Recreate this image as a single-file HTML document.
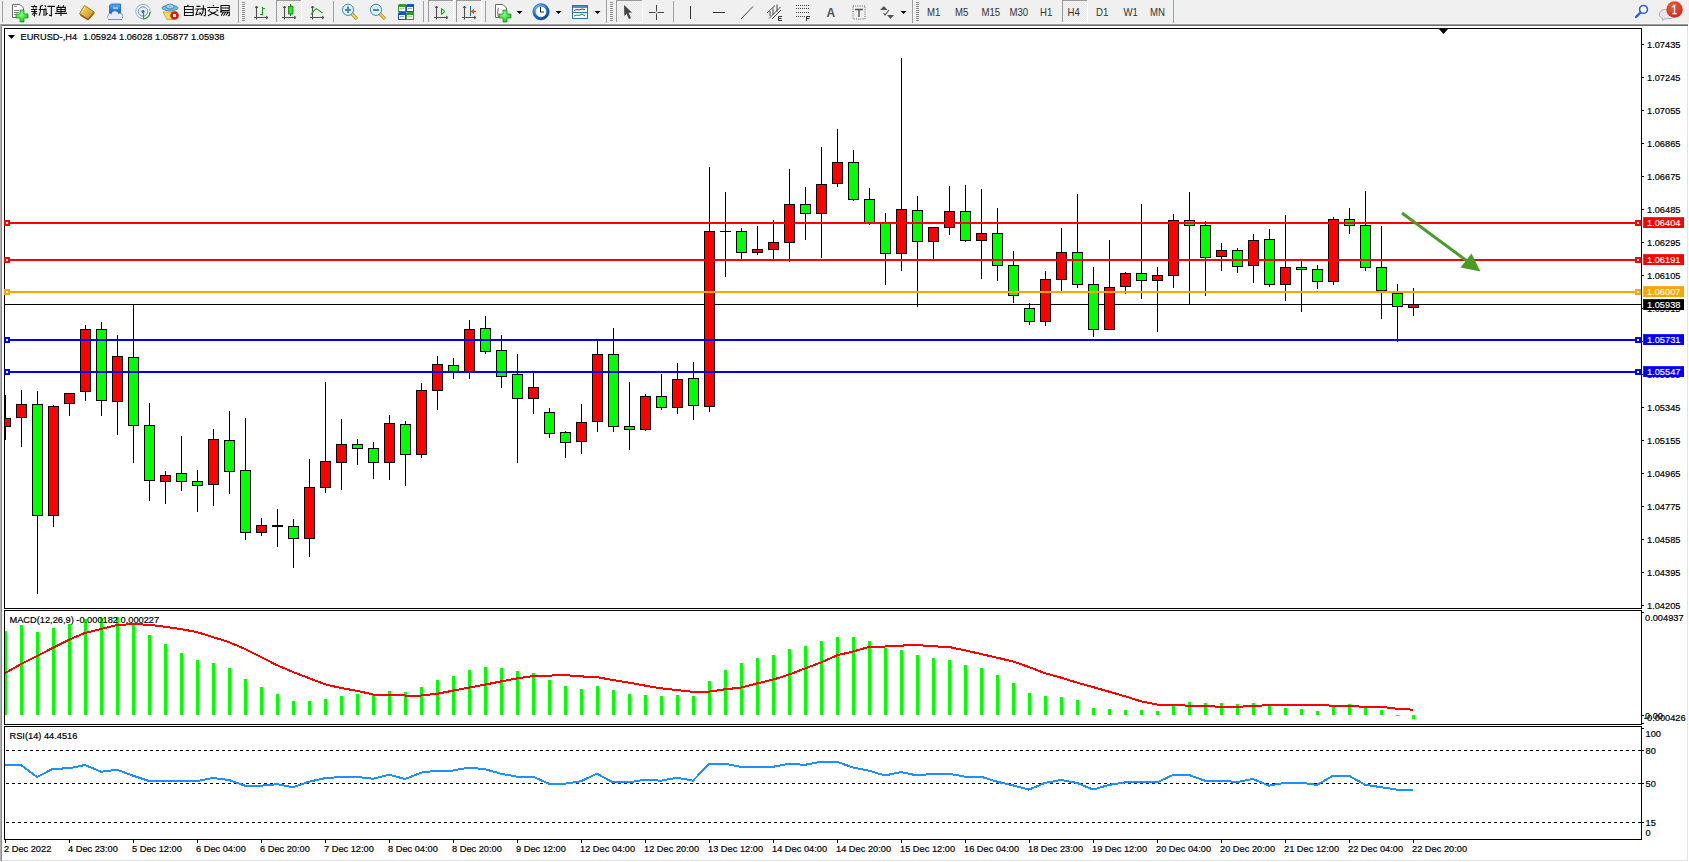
<!DOCTYPE html>
<html><head><meta charset="utf-8"><style>
html,body{margin:0;padding:0;width:1689px;height:862px;overflow:hidden;background:#fff;font-family:"Liberation Sans", sans-serif;}
</style></head><body>
<svg width="1689" height="862" viewBox="0 0 1689 862" style="position:absolute;left:0;top:0"><rect x="0" y="0" width="1689" height="24" fill="#f0f0f0"/><rect x="0" y="23" width="1689" height="1" fill="#f4f4f4"/><rect x="0" y="24" width="1688" height="1" fill="#9c9c9c"/><rect x="0" y="25" width="1688" height="1" fill="#6a6a6a"/><rect x="0" y="26" width="1689" height="836" fill="#ffffff"/><defs><pattern id="chk" width="2" height="2" patternUnits="userSpaceOnUse"><rect width="2" height="2" fill="#f6f6f6"/><rect width="1" height="1" fill="#e6e6e6"/><rect x="1" y="1" width="1" height="1" fill="#e6e6e6"/></pattern><radialGradient id="gplus" cx="0.4" cy="0.35" r="0.7"><stop offset="0" stop-color="#8cff8c"/><stop offset="1" stop-color="#12c812"/></radialGradient><linearGradient id="gold" x1="0" y1="0" x2="1" y2="1"><stop offset="0" stop-color="#f8e070"/><stop offset="1" stop-color="#c08a10"/></linearGradient><linearGradient id="blu" x1="0" y1="0" x2="0" y2="1"><stop offset="0" stop-color="#50b0ff"/><stop offset="1" stop-color="#1060d0"/></linearGradient><linearGradient id="clk" x1="0.2" y1="0" x2="0.8" y2="1"><stop offset="0" stop-color="#60b8ff"/><stop offset="0.5" stop-color="#1a70d8"/><stop offset="1" stop-color="#0a48a8"/></linearGradient><radialGradient id="redb" cx="0.4" cy="0.3" r="0.8"><stop offset="0" stop-color="#f06040"/><stop offset="1" stop-color="#d02010"/></radialGradient></defs><rect x="2" y="1" width="1" height="21" fill="#a0a0a0"/><path d="M12.5,4.5 H20 L23.5,8 V17.5 H12.5 Z" fill="#fff" stroke="#6a6a6a" stroke-width="1"/><rect x="14" y="6" width="3" height="1" fill="#888"/><rect x="14" y="10" width="5" height="1" fill="#888"/><rect x="14" y="12" width="5" height="1" fill="#888"/><rect x="14" y="14" width="3" height="1" fill="#888"/><path d="M20,10 h4 v4 h4 v4 h-4 v4 h-4 v-4 h-4 v-4 h4 z" fill="url(#gplus)" stroke="#0c8a0c" stroke-width="0.7"/><path d="M34.5,5 v1.2 M31.2,6.5 h6 M33,7.3 l0.6,1.3 M36.3,7.3 l-0.6,1.3 M31,9.5 h6.2 M31.2,11.5 h6 M34.5,9.5 v6.3 l-1,-0.5 M34,12.5 l-2,2.2 M35,12.5 l1.8,1.8 M43,5.2 l-3,1.3 M40.4,6.5 v5 l-1.2,4.2 M38.7,9.5 h6.5 M44,9.5 v6.4 M44.8,5.3 l1.2,1.6 M44.4,9 h1.6 v5.8 l1.6,-1.8 M47.4,6.4 h7.5 M51.4,6.4 v9.3 l-2.4,-0.6 M58.3,5.3 l0.8,1.3 M63.8,5.3 l-0.8,1.3 M57,7.4 h8.3 v4.1 h-8.3 z M57,9.5 h8.3 M61,7.4 v8.5 M55.1,13.4 h11.9 M188.2,4.8 l-0.6,1.4 M184.5,6.5 h8.7 v9 h-8.7 z M184.5,9.5 h8.7 M184.5,12.5 h8.7 M196.4,6.4 h4 M195.4,9 h6 M198,9 l-2,5.7 l4.8,-0.9 M199.6,12.2 l1.3,1.6 M203.4,5.3 v3.5 l-0.6,3.8 l-1.8,3 M201,8.9 h4.4 v6 l-0.4,0.8 l-1.3,-0.5 M213,5 l0.8,1.1 M207.4,7.5 h11.6 M209.7,9.5 l-1.6,1.6 M216.4,9.5 l1.7,1.6 M209.5,11.6 l9,4.2 M216.4,11.6 l-8.4,4.2 M221,5.5 h8.2 v5 h-8.2 z M221,8 h8.2 M221.8,10.6 l-1.8,1.8 M221,12 h8.3 v3.5 l-1.5,0.3 M223.4,12 l-2.2,3.8 M225.8,12 l-2.3,3.8 M228,12.4 l-2,3" fill="none" stroke="#101010" stroke-width="1.1" stroke-linecap="butt"/><path d="M79.5,13.8 L84.5,5.5 L94.5,12.2 L88,19.8 Z" fill="url(#gold)" stroke="#a06a10" stroke-width="0.9" stroke-linejoin="round"/><path d="M80.5,15 L88,19.5 L94,13" fill="none" stroke="#9a5a10" stroke-width="1.6"/><path d="M82,12.5 Q84,8 85,6.5" fill="none" stroke="#fff4b0" stroke-width="0.8"/><path d="M109.5,5.5 L111.5,4 H120.5 V13 H109.5 Z" fill="url(#blu)" stroke="#1a5ab0" stroke-width="0.8"/><rect x="113" y="7.5" width="5" height="1.2" fill="#d8f0ff"/><g fill="#e8ecf6" stroke="#6a7ea8" stroke-width="0.9"><circle cx="110.5" cy="16.5" r="2.8"/><circle cx="115" cy="14.5" r="3.6"/><circle cx="119.8" cy="16.2" r="3"/><rect x="108" y="16.5" width="14" height="3" stroke="none"/></g><path d="M108,19.5 H122" stroke="#6a7ea8" stroke-width="0.9"/><g fill="#e8ecf6"><circle cx="110.5" cy="16.5" r="2.3"/><circle cx="115" cy="14.5" r="3.1"/><circle cx="119.8" cy="16.2" r="2.5"/><rect x="109" y="15.5" width="12" height="3.6"/></g><circle cx="143" cy="11.5" r="7.2" fill="none" stroke="#90b0e0" stroke-width="1"/><circle cx="143" cy="11.5" r="4.6" fill="none" stroke="#6a90d8" stroke-width="1"/><circle cx="143" cy="11.5" r="1.6" fill="#2a60d0"/><path d="M143.5,12 v7.5 M144,19 a7,7 0 0 0 6,-7" fill="none" stroke="#30a030" stroke-width="1.2"/><path d="M163,12 L177,12 L173,19.5 L167,19.5 Z" fill="#f0e060" stroke="#c0a020" stroke-width="0.8"/><ellipse cx="170" cy="8" rx="8" ry="2.8" fill="#70b8e8" stroke="#3a80b0" stroke-width="0.8"/><ellipse cx="170" cy="6.5" rx="4" ry="2.5" fill="#90d0f8" stroke="#3a80b0" stroke-width="0.8"/><circle cx="174.5" cy="15.5" r="4.3" fill="#d82010"/><rect x="173" y="14" width="3" height="3" fill="#fff"/><rect x="238" y="0" width="1" height="23" fill="#a0a0a0"/><rect x="242" y="2" width="3" height="1" fill="#8a8a8a"/><rect x="242" y="4" width="3" height="1" fill="#8a8a8a"/><rect x="242" y="6" width="3" height="1" fill="#8a8a8a"/><rect x="242" y="8" width="3" height="1" fill="#8a8a8a"/><rect x="242" y="10" width="3" height="1" fill="#8a8a8a"/><rect x="242" y="12" width="3" height="1" fill="#8a8a8a"/><rect x="242" y="14" width="3" height="1" fill="#8a8a8a"/><rect x="242" y="16" width="3" height="1" fill="#8a8a8a"/><rect x="242" y="18" width="3" height="1" fill="#8a8a8a"/><rect x="242" y="20" width="3" height="1" fill="#8a8a8a"/><path d="M256.5,6 V19.5 M254,17.5 H268" stroke="#505050" stroke-width="1.1" fill="none"/><path d="M255,8 L256.5,6 L258,8 M266,16 L268,17.5 L266,19" stroke="#505050" stroke-width="1" fill="none"/><path d="M262.5,7 V15.5 M262.5,8.5 H265 M262.5,14.5 H260" stroke="#10a010" stroke-width="1.2" fill="none"/><rect x="276" y="0" width="25" height="22" fill="url(#chk)"/><rect x="276" y="0" width="25" height="1" fill="#9a9a9a"/><rect x="276" y="0" width="1" height="22" fill="#9a9a9a"/><rect x="276" y="22" width="26" height="1" fill="#ffffff"/><rect x="301" y="0" width="1" height="23" fill="#ffffff"/><path d="M284.5,6 V19.5 M282,17.5 H296" stroke="#505050" stroke-width="1.1" fill="none"/><path d="M283,8 L284.5,6 L286,8 M294,16 L296,17.5 L294,19" stroke="#505050" stroke-width="1" fill="none"/><rect x="290" y="4" width="1.2" height="12" fill="#108010"/><rect x="288.5" y="6.5" width="4.5" height="7.5" fill="#30e030" stroke="#108010" stroke-width="0.8"/><path d="M312.5,6 V19.5 M310,17.5 H324" stroke="#505050" stroke-width="1.1" fill="none"/><path d="M311,8 L312.5,6 L314,8 M322,16 L324,17.5 L322,19" stroke="#505050" stroke-width="1" fill="none"/><path d="M311,14.5 C313.5,11 315.5,8.5 317,9 C319,9.5 320.5,12.5 322.7,13" stroke="#20a020" stroke-width="1.2" fill="none"/><rect x="333" y="1" width="1" height="21" fill="#a0a0a0"/><path d="M351.5,13.5 L357,19" stroke="#b08a10" stroke-width="3.2" stroke-linecap="butt"/><path d="M351.5,13.5 L357,19" stroke="#e8d050" stroke-width="1.8"/><circle cx="348" cy="9.8" r="5.6" fill="#dcf2fc" stroke="#3a80c8" stroke-width="1"/><rect x="345" y="9" width="6" height="2" fill="#4a88a8"/><rect x="347" y="6.5" width="2" height="6.5" fill="#4a88a8"/><path d="M379.5,13.5 L385,19" stroke="#b08a10" stroke-width="3.2" stroke-linecap="butt"/><path d="M379.5,13.5 L385,19" stroke="#e8d050" stroke-width="1.8"/><circle cx="376" cy="9.8" r="5.6" fill="#dcf2fc" stroke="#3a80c8" stroke-width="1"/><rect x="373" y="9" width="6" height="2" fill="#4a88a8"/><rect x="398" y="4" width="8" height="8" fill="#30a020"/><rect x="399" y="7" width="6" height="4" fill="#fff"/><rect x="400" y="8" width="4" height="1" fill="#a0d890"/><rect x="398" y="4" width="1" height="1" fill="#fff" opacity="0.6"/><rect x="406" y="4" width="8" height="8" fill="#1a50d0"/><rect x="407" y="7" width="6" height="4" fill="#fff"/><rect x="408" y="8" width="4" height="1" fill="#90a8e8"/><rect x="406" y="4" width="1" height="1" fill="#fff" opacity="0.6"/><rect x="398" y="12" width="8" height="8" fill="#1a50d0"/><rect x="399" y="15" width="6" height="4" fill="#fff"/><rect x="400" y="16" width="4" height="1" fill="#90a8e8"/><rect x="398" y="12" width="1" height="1" fill="#fff" opacity="0.6"/><rect x="406" y="12" width="8" height="8" fill="#30a020"/><rect x="407" y="15" width="6" height="4" fill="#fff"/><rect x="408" y="16" width="4" height="1" fill="#a0d890"/><rect x="406" y="12" width="1" height="1" fill="#fff" opacity="0.6"/><rect x="423" y="1" width="1" height="21" fill="#a0a0a0"/><rect x="428" y="0" width="25" height="22" fill="url(#chk)"/><rect x="428" y="0" width="25" height="1" fill="#9a9a9a"/><rect x="428" y="0" width="1" height="22" fill="#9a9a9a"/><rect x="428" y="22" width="26" height="1" fill="#ffffff"/><rect x="453" y="0" width="1" height="23" fill="#ffffff"/><path d="M436.5,6 V19.5 M434,17.5 H448" stroke="#505050" stroke-width="1.1" fill="none"/><path d="M435,8 L436.5,6 L438,8 M446,16 L448,17.5 L446,19" stroke="#505050" stroke-width="1" fill="none"/><polygon points="441.5,8.5 441.5,14.5 445,11.5" fill="#a0f0a0" stroke="#10a010" stroke-width="1"/><rect x="456" y="0" width="25" height="22" fill="url(#chk)"/><rect x="456" y="0" width="25" height="1" fill="#9a9a9a"/><rect x="456" y="0" width="1" height="22" fill="#9a9a9a"/><rect x="456" y="22" width="26" height="1" fill="#ffffff"/><rect x="481" y="0" width="1" height="23" fill="#ffffff"/><path d="M464.5,6 V19.5 M462,17.5 H476" stroke="#505050" stroke-width="1.1" fill="none"/><path d="M463,8 L464.5,6 L466,8 M474,16 L476,17.5 L474,19" stroke="#505050" stroke-width="1" fill="none"/><rect x="470" y="6" width="1" height="10" fill="#1a6aa0"/><path d="M476,11.5 H472 M474,9.5 L471.5,11.5 L474,13.5" stroke="#e05010" stroke-width="1.3" fill="none"/><rect x="485" y="1" width="1" height="21" fill="#a0a0a0"/><path d="M495.5,4.5 H503 L506.5,8 V17.5 H495.5 Z" fill="#fff" stroke="#6a6a6a" stroke-width="1"/><path d="M499,8 q-1,0 -1,1.5 v2 l-0.8,0.8 l0.8,0.8 v2.5 q0,1.2 1,1.2" fill="none" stroke="#5a4a30" stroke-width="0.9"/><path d="M503,10 h4 v4 h4 v4 h-4 v4 h-4 v-4 h-4 v-4 h4 z" fill="url(#gplus)" stroke="#0c8a0c" stroke-width="0.7"/><polygon points="516.5,11 522.5,11 519.5,14" fill="#000"/><circle cx="541" cy="11.8" r="6.8" fill="#fff" stroke="url(#clk)" stroke-width="2.8"/><g fill="#888"><rect x="540.5" y="6" width="1" height="1"/><rect x="545.5" y="11.3" width="1" height="1"/><rect x="535.5" y="11.3" width="1" height="1"/><rect x="540.5" y="16.5" width="1" height="1"/></g><circle cx="541" cy="11.8" r="8.1" fill="none" stroke="#0a3a90" stroke-width="0.6"/><path d="M540.5,7 V12 H544" stroke="#222" stroke-width="1" fill="none"/><polygon points="555.5,11 561.5,11 558.5,14" fill="#000"/><rect x="572.5" y="5.5" width="15" height="13" fill="#fff" stroke="#2a70c0" stroke-width="1"/><rect x="573" y="6" width="14" height="2" fill="#4a90d8"/><rect x="573" y="12" width="14" height="1" fill="#2a70c0"/><path d="M574,10.5 L577,9.5 L579,10 L582,9 L585,9.5" stroke="#a02010" stroke-width="1" fill="none"/><path d="M574,16 L577,15 L579,15.5 L582,14 L585,16" stroke="#10a010" stroke-width="1" fill="none"/><polygon points="594.5,11 600.5,11 597.5,14" fill="#000"/><rect x="606" y="0" width="1" height="23" fill="#a0a0a0"/><rect x="610" y="2" width="3" height="1" fill="#8a8a8a"/><rect x="610" y="4" width="3" height="1" fill="#8a8a8a"/><rect x="610" y="6" width="3" height="1" fill="#8a8a8a"/><rect x="610" y="8" width="3" height="1" fill="#8a8a8a"/><rect x="610" y="10" width="3" height="1" fill="#8a8a8a"/><rect x="610" y="12" width="3" height="1" fill="#8a8a8a"/><rect x="610" y="14" width="3" height="1" fill="#8a8a8a"/><rect x="610" y="16" width="3" height="1" fill="#8a8a8a"/><rect x="610" y="18" width="3" height="1" fill="#8a8a8a"/><rect x="610" y="20" width="3" height="1" fill="#8a8a8a"/><rect x="616" y="0" width="26" height="22" fill="url(#chk)"/><rect x="616" y="0" width="26" height="1" fill="#9a9a9a"/><rect x="616" y="0" width="1" height="22" fill="#9a9a9a"/><rect x="616" y="22" width="27" height="1" fill="#ffffff"/><rect x="642" y="0" width="1" height="23" fill="#ffffff"/><path d="M624,5 L632,12.5 L628.5,12.8 L631,18 L629,19 L626.5,13.8 L624.3,16 Z" fill="#444"/><path d="M656.5,5 V11.5 M656.5,13.5 V20 M649,12.5 H655.5 M657.5,12.5 H664" stroke="#444" stroke-width="1" fill="none"/><rect x="673" y="1" width="1" height="21" fill="#a0a0a0"/><rect x="690" y="6" width="1" height="13" fill="#333"/><rect x="713" y="12" width="12" height="1" fill="#333"/><path d="M741,19 L753,6.5" stroke="#444" stroke-width="1" fill="none"/><path d="M767,13 L775,5.5 M769,18.5 L780.5,7 M772,19 L781,10" stroke="#333" stroke-width="0.9" fill="none"/><path d="M770,11 v5 M773,8.5 v6 M777,4.5 v7" stroke="#333" stroke-width="0.9" fill="none"/><path d="M782,16.5 h-3.5 v4 h3.5 M778.5,18.5 h3" stroke="#333" stroke-width="1" fill="none"/><rect x="796" y="5" width="1" height="1" fill="#444"/><rect x="798" y="5" width="1" height="1" fill="#444"/><rect x="800" y="5" width="1" height="1" fill="#444"/><rect x="802" y="5" width="1" height="1" fill="#444"/><rect x="804" y="5" width="1" height="1" fill="#444"/><rect x="806" y="5" width="1" height="1" fill="#444"/><rect x="808" y="5" width="1" height="1" fill="#444"/><rect x="796" y="8" width="1" height="1" fill="#444"/><rect x="798" y="8" width="1" height="1" fill="#444"/><rect x="800" y="8" width="1" height="1" fill="#444"/><rect x="802" y="8" width="1" height="1" fill="#444"/><rect x="804" y="8" width="1" height="1" fill="#444"/><rect x="806" y="8" width="1" height="1" fill="#444"/><rect x="808" y="8" width="1" height="1" fill="#444"/><rect x="796" y="12" width="1" height="1" fill="#444"/><rect x="798" y="12" width="1" height="1" fill="#444"/><rect x="800" y="12" width="1" height="1" fill="#444"/><rect x="802" y="12" width="1" height="1" fill="#444"/><rect x="804" y="12" width="1" height="1" fill="#444"/><rect x="806" y="12" width="1" height="1" fill="#444"/><rect x="808" y="12" width="1" height="1" fill="#444"/><rect x="796" y="16" width="1" height="1" fill="#444"/><rect x="798" y="16" width="1" height="1" fill="#444"/><rect x="800" y="16" width="1" height="1" fill="#444"/><rect x="802" y="16" width="1" height="1" fill="#444"/><rect x="804" y="16" width="1" height="1" fill="#444"/><path d="M810,16.5 h-3.5 v4.5 M806.5,18.5 h3" stroke="#333" stroke-width="1" fill="none"/><text x="826.5" y="17" font-family='"Liberation Sans", sans-serif' font-size="12" font-weight="bold" fill="#555">A</text><rect x="853" y="6" width="12" height="13" fill="none" stroke="#555" stroke-width="0.9" stroke-dasharray="1 1.2"/><path d="M855,9.5 H863 M859,9.5 V17" stroke="#555" stroke-width="1.4" fill="none"/><polygon points="880,10 884,6 887.5,10" fill="#555"/><path d="M883.5,13 L885,15 L889,10" stroke="#555" stroke-width="1.2" fill="none"/><polygon points="887,15 894,15 890.5,19" fill="#555"/><polygon points="900.5,11 906.5,11 903.5,14" fill="#000"/><rect x="912" y="0" width="1" height="23" fill="#a0a0a0"/><rect x="916" y="2" width="3" height="1" fill="#8a8a8a"/><rect x="916" y="4" width="3" height="1" fill="#8a8a8a"/><rect x="916" y="6" width="3" height="1" fill="#8a8a8a"/><rect x="916" y="8" width="3" height="1" fill="#8a8a8a"/><rect x="916" y="10" width="3" height="1" fill="#8a8a8a"/><rect x="916" y="12" width="3" height="1" fill="#8a8a8a"/><rect x="916" y="14" width="3" height="1" fill="#8a8a8a"/><rect x="916" y="16" width="3" height="1" fill="#8a8a8a"/><rect x="916" y="18" width="3" height="1" fill="#8a8a8a"/><rect x="916" y="20" width="3" height="1" fill="#8a8a8a"/><rect x="1062" y="0" width="25" height="22" fill="url(#chk)"/><rect x="1062" y="0" width="25" height="1" fill="#9a9a9a"/><rect x="1062" y="0" width="1" height="22" fill="#9a9a9a"/><rect x="1062" y="22" width="26" height="1" fill="#ffffff"/><rect x="1087" y="0" width="1" height="23" fill="#ffffff"/><text x="927" y="16" font-family='"Liberation Sans", sans-serif' font-size="10.4" textLength="13.34" lengthAdjust="spacingAndGlyphs" fill="#333">M1</text><text x="955" y="16" font-family='"Liberation Sans", sans-serif' font-size="10.4" textLength="13.34" lengthAdjust="spacingAndGlyphs" fill="#333">M5</text><text x="981.5" y="16" font-family='"Liberation Sans", sans-serif' font-size="10.4" textLength="18.68" lengthAdjust="spacingAndGlyphs" fill="#333">M15</text><text x="1009.5" y="16" font-family='"Liberation Sans", sans-serif' font-size="10.4" textLength="18.68" lengthAdjust="spacingAndGlyphs" fill="#333">M30</text><text x="1040" y="16" font-family='"Liberation Sans", sans-serif' font-size="10.4" textLength="12.27" lengthAdjust="spacingAndGlyphs" fill="#333">H1</text><text x="1067.5" y="16" font-family='"Liberation Sans", sans-serif' font-size="10.4" textLength="12.27" lengthAdjust="spacingAndGlyphs" fill="#333">H4</text><text x="1096" y="16" font-family='"Liberation Sans", sans-serif' font-size="10.4" textLength="12.27" lengthAdjust="spacingAndGlyphs" fill="#333">D1</text><text x="1123.5" y="16" font-family='"Liberation Sans", sans-serif' font-size="10.4" textLength="14.40" lengthAdjust="spacingAndGlyphs" fill="#333">W1</text><text x="1150" y="16" font-family='"Liberation Sans", sans-serif' font-size="10.4" textLength="14.93" lengthAdjust="spacingAndGlyphs" fill="#333">MN</text><rect x="1173" y="0" width="1" height="23" fill="#a0a0a0"/><circle cx="1643.5" cy="9.4" r="3.9" fill="#fff" stroke="#2a60d0" stroke-width="1.6"/><path d="M1640.5,12.5 L1636,17" stroke="#2a60d0" stroke-width="2.4" stroke-linecap="round"/><path d="M1665.5,9.5 c-4,0 -6,2 -6,5 c0,2 1.5,3.5 3.5,4 l-0.5,2 l2.5,-1.8 h4 c4,0 6,-2 6,-4.5 c0,-3 -3,-4.7 -9.5,-4.7 z" fill="#e4e6ee" stroke="#a8a8a8" stroke-width="0.9"/><circle cx="1674.5" cy="9.5" r="8.2" fill="url(#redb)"/><path d="M1672,7 L1674.5,5.5 V13.5 M1672.2,13.7 H1676.8" stroke="#fff" stroke-width="1.3" fill="none"/><rect x="0" y="24" width="1" height="837" fill="#b0b0b0"/><rect x="1" y="24" width="1" height="837" fill="#8a8a8a"/><rect x="1687" y="26" width="1" height="835" fill="#e3e3e3"/><rect x="2" y="860" width="1686" height="1" fill="#e3e3e3"/><rect x="4.5" y="28.5" width="1637" height="580" fill="none" stroke="#000" stroke-width="1"/><rect x="4.5" y="610.5" width="1637" height="114" fill="none" stroke="#000" stroke-width="1"/><rect x="4.5" y="726.5" width="1637" height="113" fill="none" stroke="#000" stroke-width="1"/><defs><clipPath id="cm"><rect x="5" y="29" width="1636" height="579"/></clipPath><clipPath id="cd"><rect x="5" y="611" width="1636" height="113"/></clipPath><clipPath id="cr"><rect x="5" y="727" width="1636" height="112"/></clipPath></defs><g clip-path="url(#cm)" shape-rendering="crispEdges"><rect x="5" y="304" width="1636" height="1" fill="#000"/><rect x="5" y="395" width="1" height="45" fill="#000"/><rect x="0" y="418" width="11" height="9" fill="#000"/><rect x="1" y="419" width="9" height="7" fill="#ff0000"/><rect x="21" y="390" width="1" height="57" fill="#000"/><rect x="16" y="404" width="11" height="14" fill="#000"/><rect x="17" y="405" width="9" height="12" fill="#ff0000"/><rect x="37" y="391" width="1" height="203" fill="#000"/><rect x="32" y="404" width="11" height="112" fill="#000"/><rect x="33" y="405" width="9" height="110" fill="#00ff00"/><rect x="53" y="405" width="1" height="122" fill="#000"/><rect x="48" y="406" width="11" height="110" fill="#000"/><rect x="49" y="407" width="9" height="108" fill="#ff0000"/><rect x="69" y="393" width="1" height="23" fill="#000"/><rect x="64" y="393" width="11" height="11" fill="#000"/><rect x="65" y="394" width="9" height="9" fill="#ff0000"/><rect x="85" y="325" width="1" height="76" fill="#000"/><rect x="80" y="329" width="11" height="63" fill="#000"/><rect x="81" y="330" width="9" height="61" fill="#ff0000"/><rect x="101" y="322" width="1" height="94" fill="#000"/><rect x="96" y="329" width="11" height="72" fill="#000"/><rect x="97" y="330" width="9" height="70" fill="#00ff00"/><rect x="117" y="335" width="1" height="100" fill="#000"/><rect x="112" y="356" width="11" height="46" fill="#000"/><rect x="113" y="357" width="9" height="44" fill="#ff0000"/><rect x="133" y="304" width="1" height="159" fill="#000"/><rect x="128" y="357" width="11" height="69" fill="#000"/><rect x="129" y="358" width="9" height="67" fill="#00ff00"/><rect x="149" y="403" width="1" height="98" fill="#000"/><rect x="144" y="425" width="11" height="56" fill="#000"/><rect x="145" y="426" width="9" height="54" fill="#00ff00"/><rect x="165" y="471" width="1" height="33" fill="#000"/><rect x="160" y="475" width="11" height="7" fill="#000"/><rect x="161" y="476" width="9" height="5" fill="#ff0000"/><rect x="181" y="436" width="1" height="55" fill="#000"/><rect x="176" y="473" width="11" height="9" fill="#000"/><rect x="177" y="474" width="9" height="7" fill="#00ff00"/><rect x="197" y="470" width="1" height="42" fill="#000"/><rect x="192" y="481" width="11" height="5" fill="#000"/><rect x="193" y="482" width="9" height="3" fill="#00ff00"/><rect x="213" y="429" width="1" height="77" fill="#000"/><rect x="208" y="439" width="11" height="46" fill="#000"/><rect x="209" y="440" width="9" height="44" fill="#ff0000"/><rect x="229" y="411" width="1" height="83" fill="#000"/><rect x="224" y="440" width="11" height="32" fill="#000"/><rect x="225" y="441" width="9" height="30" fill="#00ff00"/><rect x="245" y="418" width="1" height="122" fill="#000"/><rect x="240" y="470" width="11" height="63" fill="#000"/><rect x="241" y="471" width="9" height="61" fill="#00ff00"/><rect x="261" y="518" width="1" height="18" fill="#000"/><rect x="256" y="525" width="11" height="8" fill="#000"/><rect x="257" y="526" width="9" height="6" fill="#ff0000"/><rect x="277" y="509" width="1" height="38" fill="#000"/><rect x="272" y="525" width="11" height="2" fill="#000"/><rect x="293" y="519" width="1" height="49" fill="#000"/><rect x="288" y="526" width="11" height="13" fill="#000"/><rect x="289" y="527" width="9" height="11" fill="#00ff00"/><rect x="309" y="459" width="1" height="98" fill="#000"/><rect x="304" y="487" width="11" height="52" fill="#000"/><rect x="305" y="488" width="9" height="50" fill="#ff0000"/><rect x="325" y="382" width="1" height="111" fill="#000"/><rect x="320" y="461" width="11" height="27" fill="#000"/><rect x="321" y="462" width="9" height="25" fill="#ff0000"/><rect x="341" y="419" width="1" height="71" fill="#000"/><rect x="336" y="444" width="11" height="19" fill="#000"/><rect x="337" y="445" width="9" height="17" fill="#ff0000"/><rect x="357" y="439" width="1" height="26" fill="#000"/><rect x="352" y="444" width="11" height="5" fill="#000"/><rect x="353" y="445" width="9" height="3" fill="#00ff00"/><rect x="373" y="442" width="1" height="37" fill="#000"/><rect x="368" y="448" width="11" height="15" fill="#000"/><rect x="369" y="449" width="9" height="13" fill="#00ff00"/><rect x="389" y="415" width="1" height="65" fill="#000"/><rect x="384" y="423" width="11" height="40" fill="#000"/><rect x="385" y="424" width="9" height="38" fill="#ff0000"/><rect x="405" y="421" width="1" height="65" fill="#000"/><rect x="400" y="424" width="11" height="31" fill="#000"/><rect x="401" y="425" width="9" height="29" fill="#00ff00"/><rect x="421" y="383" width="1" height="75" fill="#000"/><rect x="416" y="390" width="11" height="65" fill="#000"/><rect x="417" y="391" width="9" height="63" fill="#ff0000"/><rect x="437" y="356" width="1" height="54" fill="#000"/><rect x="432" y="364" width="11" height="27" fill="#000"/><rect x="433" y="365" width="9" height="25" fill="#ff0000"/><rect x="453" y="358" width="1" height="21" fill="#000"/><rect x="448" y="365" width="11" height="7" fill="#000"/><rect x="449" y="366" width="9" height="5" fill="#00ff00"/><rect x="469" y="320" width="1" height="59" fill="#000"/><rect x="464" y="329" width="11" height="43" fill="#000"/><rect x="465" y="330" width="9" height="41" fill="#ff0000"/><rect x="485" y="316" width="1" height="38" fill="#000"/><rect x="480" y="328" width="11" height="24" fill="#000"/><rect x="481" y="329" width="9" height="22" fill="#00ff00"/><rect x="501" y="335" width="1" height="53" fill="#000"/><rect x="496" y="350" width="11" height="27" fill="#000"/><rect x="497" y="351" width="9" height="25" fill="#00ff00"/><rect x="517" y="354" width="1" height="109" fill="#000"/><rect x="512" y="374" width="11" height="25" fill="#000"/><rect x="513" y="375" width="9" height="23" fill="#00ff00"/><rect x="533" y="373" width="1" height="41" fill="#000"/><rect x="528" y="387" width="11" height="12" fill="#000"/><rect x="529" y="388" width="9" height="10" fill="#ff0000"/><rect x="549" y="408" width="1" height="30" fill="#000"/><rect x="544" y="412" width="11" height="22" fill="#000"/><rect x="545" y="413" width="9" height="20" fill="#00ff00"/><rect x="565" y="431" width="1" height="27" fill="#000"/><rect x="560" y="432" width="11" height="11" fill="#000"/><rect x="561" y="433" width="9" height="9" fill="#00ff00"/><rect x="581" y="404" width="1" height="50" fill="#000"/><rect x="576" y="422" width="11" height="20" fill="#000"/><rect x="577" y="423" width="9" height="18" fill="#ff0000"/><rect x="597" y="340" width="1" height="92" fill="#000"/><rect x="592" y="354" width="11" height="68" fill="#000"/><rect x="593" y="355" width="9" height="66" fill="#ff0000"/><rect x="613" y="328" width="1" height="104" fill="#000"/><rect x="608" y="354" width="11" height="73" fill="#000"/><rect x="609" y="355" width="9" height="71" fill="#00ff00"/><rect x="629" y="382" width="1" height="68" fill="#000"/><rect x="624" y="426" width="11" height="4" fill="#000"/><rect x="625" y="427" width="9" height="2" fill="#00ff00"/><rect x="645" y="394" width="1" height="37" fill="#000"/><rect x="640" y="396" width="11" height="34" fill="#000"/><rect x="641" y="397" width="9" height="32" fill="#ff0000"/><rect x="661" y="374" width="1" height="36" fill="#000"/><rect x="656" y="396" width="11" height="12" fill="#000"/><rect x="657" y="397" width="9" height="10" fill="#00ff00"/><rect x="677" y="363" width="1" height="51" fill="#000"/><rect x="672" y="379" width="11" height="29" fill="#000"/><rect x="673" y="380" width="9" height="27" fill="#ff0000"/><rect x="693" y="362" width="1" height="58" fill="#000"/><rect x="688" y="378" width="11" height="28" fill="#000"/><rect x="689" y="379" width="9" height="26" fill="#00ff00"/><rect x="709" y="167" width="1" height="245" fill="#000"/><rect x="704" y="231" width="11" height="176" fill="#000"/><rect x="705" y="232" width="9" height="174" fill="#ff0000"/><rect x="725" y="192" width="1" height="85" fill="#000"/><rect x="720" y="231" width="11" height="1" fill="#000"/><rect x="741" y="228" width="1" height="31" fill="#000"/><rect x="736" y="231" width="11" height="22" fill="#000"/><rect x="737" y="232" width="9" height="20" fill="#00ff00"/><rect x="757" y="226" width="1" height="29" fill="#000"/><rect x="752" y="249" width="11" height="4" fill="#000"/><rect x="753" y="250" width="9" height="2" fill="#ff0000"/><rect x="773" y="220" width="1" height="39" fill="#000"/><rect x="768" y="242" width="11" height="8" fill="#000"/><rect x="769" y="243" width="9" height="6" fill="#ff0000"/><rect x="789" y="169" width="1" height="93" fill="#000"/><rect x="784" y="204" width="11" height="39" fill="#000"/><rect x="785" y="205" width="9" height="37" fill="#ff0000"/><rect x="805" y="187" width="1" height="53" fill="#000"/><rect x="800" y="204" width="11" height="10" fill="#000"/><rect x="801" y="205" width="9" height="8" fill="#00ff00"/><rect x="821" y="147" width="1" height="111" fill="#000"/><rect x="816" y="184" width="11" height="30" fill="#000"/><rect x="817" y="185" width="9" height="28" fill="#ff0000"/><rect x="837" y="129" width="1" height="58" fill="#000"/><rect x="832" y="162" width="11" height="22" fill="#000"/><rect x="833" y="163" width="9" height="20" fill="#ff0000"/><rect x="853" y="150" width="1" height="51" fill="#000"/><rect x="848" y="162" width="11" height="38" fill="#000"/><rect x="849" y="163" width="9" height="36" fill="#00ff00"/><rect x="869" y="188" width="1" height="37" fill="#000"/><rect x="864" y="199" width="11" height="24" fill="#000"/><rect x="865" y="200" width="9" height="22" fill="#00ff00"/><rect x="885" y="213" width="1" height="72" fill="#000"/><rect x="880" y="223" width="11" height="31" fill="#000"/><rect x="881" y="224" width="9" height="29" fill="#00ff00"/><rect x="901" y="58" width="1" height="213" fill="#000"/><rect x="896" y="209" width="11" height="45" fill="#000"/><rect x="897" y="210" width="9" height="43" fill="#ff0000"/><rect x="917" y="196" width="1" height="111" fill="#000"/><rect x="912" y="210" width="11" height="32" fill="#000"/><rect x="913" y="211" width="9" height="30" fill="#00ff00"/><rect x="933" y="227" width="1" height="32" fill="#000"/><rect x="928" y="227" width="11" height="15" fill="#000"/><rect x="929" y="228" width="9" height="13" fill="#ff0000"/><rect x="949" y="186" width="1" height="49" fill="#000"/><rect x="944" y="211" width="11" height="17" fill="#000"/><rect x="945" y="212" width="9" height="15" fill="#ff0000"/><rect x="965" y="185" width="1" height="57" fill="#000"/><rect x="960" y="211" width="11" height="30" fill="#000"/><rect x="961" y="212" width="9" height="28" fill="#00ff00"/><rect x="981" y="189" width="1" height="90" fill="#000"/><rect x="976" y="233" width="11" height="8" fill="#000"/><rect x="977" y="234" width="9" height="6" fill="#ff0000"/><rect x="997" y="208" width="1" height="73" fill="#000"/><rect x="992" y="233" width="11" height="33" fill="#000"/><rect x="993" y="234" width="9" height="31" fill="#00ff00"/><rect x="1013" y="251" width="1" height="52" fill="#000"/><rect x="1008" y="265" width="11" height="31" fill="#000"/><rect x="1009" y="266" width="9" height="29" fill="#00ff00"/><rect x="1029" y="303" width="1" height="22" fill="#000"/><rect x="1024" y="308" width="11" height="14" fill="#000"/><rect x="1025" y="309" width="9" height="12" fill="#00ff00"/><rect x="1045" y="271" width="1" height="55" fill="#000"/><rect x="1040" y="279" width="11" height="43" fill="#000"/><rect x="1041" y="280" width="9" height="41" fill="#ff0000"/><rect x="1061" y="228" width="1" height="63" fill="#000"/><rect x="1056" y="252" width="11" height="28" fill="#000"/><rect x="1057" y="253" width="9" height="26" fill="#ff0000"/><rect x="1077" y="194" width="1" height="94" fill="#000"/><rect x="1072" y="252" width="11" height="33" fill="#000"/><rect x="1073" y="253" width="9" height="31" fill="#00ff00"/><rect x="1093" y="267" width="1" height="70" fill="#000"/><rect x="1088" y="284" width="11" height="46" fill="#000"/><rect x="1089" y="285" width="9" height="44" fill="#00ff00"/><rect x="1109" y="240" width="1" height="89" fill="#000"/><rect x="1104" y="287" width="11" height="43" fill="#000"/><rect x="1105" y="288" width="9" height="41" fill="#ff0000"/><rect x="1125" y="272" width="1" height="22" fill="#000"/><rect x="1120" y="273" width="11" height="14" fill="#000"/><rect x="1121" y="274" width="9" height="12" fill="#ff0000"/><rect x="1141" y="204" width="1" height="95" fill="#000"/><rect x="1136" y="273" width="11" height="8" fill="#000"/><rect x="1137" y="274" width="9" height="6" fill="#00ff00"/><rect x="1157" y="267" width="1" height="65" fill="#000"/><rect x="1152" y="275" width="11" height="6" fill="#000"/><rect x="1153" y="276" width="9" height="4" fill="#ff0000"/><rect x="1173" y="214" width="1" height="74" fill="#000"/><rect x="1168" y="220" width="11" height="56" fill="#000"/><rect x="1169" y="221" width="9" height="54" fill="#ff0000"/><rect x="1189" y="192" width="1" height="112" fill="#000"/><rect x="1184" y="220" width="11" height="6" fill="#000"/><rect x="1185" y="221" width="9" height="4" fill="#00ff00"/><rect x="1205" y="221" width="1" height="75" fill="#000"/><rect x="1200" y="225" width="11" height="33" fill="#000"/><rect x="1201" y="226" width="9" height="31" fill="#00ff00"/><rect x="1221" y="243" width="1" height="28" fill="#000"/><rect x="1216" y="250" width="11" height="7" fill="#000"/><rect x="1217" y="251" width="9" height="5" fill="#ff0000"/><rect x="1237" y="248" width="1" height="25" fill="#000"/><rect x="1232" y="250" width="11" height="17" fill="#000"/><rect x="1233" y="251" width="9" height="15" fill="#00ff00"/><rect x="1253" y="234" width="1" height="49" fill="#000"/><rect x="1248" y="240" width="11" height="26" fill="#000"/><rect x="1249" y="241" width="9" height="24" fill="#ff0000"/><rect x="1269" y="229" width="1" height="58" fill="#000"/><rect x="1264" y="239" width="11" height="46" fill="#000"/><rect x="1265" y="240" width="9" height="44" fill="#00ff00"/><rect x="1285" y="215" width="1" height="86" fill="#000"/><rect x="1280" y="267" width="11" height="18" fill="#000"/><rect x="1281" y="268" width="9" height="16" fill="#ff0000"/><rect x="1301" y="261" width="1" height="51" fill="#000"/><rect x="1296" y="267" width="11" height="3" fill="#000"/><rect x="1297" y="268" width="9" height="1" fill="#00ff00"/><rect x="1317" y="265" width="1" height="24" fill="#000"/><rect x="1312" y="269" width="11" height="13" fill="#000"/><rect x="1313" y="270" width="9" height="11" fill="#00ff00"/><rect x="1333" y="217" width="1" height="68" fill="#000"/><rect x="1328" y="219" width="11" height="63" fill="#000"/><rect x="1329" y="220" width="9" height="61" fill="#ff0000"/><rect x="1349" y="208" width="1" height="26" fill="#000"/><rect x="1344" y="219" width="11" height="7" fill="#000"/><rect x="1345" y="220" width="9" height="5" fill="#00ff00"/><rect x="1365" y="191" width="1" height="80" fill="#000"/><rect x="1360" y="225" width="11" height="43" fill="#000"/><rect x="1361" y="226" width="9" height="41" fill="#00ff00"/><rect x="1381" y="226" width="1" height="93" fill="#000"/><rect x="1376" y="267" width="11" height="24" fill="#000"/><rect x="1377" y="268" width="9" height="22" fill="#00ff00"/><rect x="1397" y="284" width="1" height="58" fill="#000"/><rect x="1392" y="293" width="11" height="14" fill="#000"/><rect x="1393" y="294" width="9" height="12" fill="#00ff00"/><rect x="1413" y="288" width="1" height="28" fill="#000"/><rect x="1408" y="304" width="11" height="4" fill="#000"/><rect x="1409" y="305" width="9" height="2" fill="#ff0000"/><rect x="5" y="222" width="1636" height="2" fill="#ff0000"/><rect x="4" y="220" width="6" height="6" fill="#ff0000"/><rect x="6" y="222" width="2" height="2" fill="#fff"/><rect x="1635" y="220" width="6" height="6" fill="#ff0000"/><rect x="1637" y="222" width="2" height="2" fill="#fff"/><rect x="5" y="259" width="1636" height="2" fill="#ff0000"/><rect x="4" y="257" width="6" height="6" fill="#ff0000"/><rect x="6" y="259" width="2" height="2" fill="#fff"/><rect x="1635" y="257" width="6" height="6" fill="#ff0000"/><rect x="1637" y="259" width="2" height="2" fill="#fff"/><rect x="5" y="291" width="1636" height="2" fill="#ffa500"/><rect x="4" y="289" width="6" height="6" fill="#ffa500"/><rect x="6" y="291" width="2" height="2" fill="#fff"/><rect x="1635" y="289" width="6" height="6" fill="#ffa500"/><rect x="1637" y="291" width="2" height="2" fill="#fff"/><rect x="5" y="339" width="1636" height="2" fill="#0000ff"/><rect x="4" y="337" width="6" height="6" fill="#0000ff"/><rect x="6" y="339" width="2" height="2" fill="#fff"/><rect x="1635" y="337" width="6" height="6" fill="#0000ff"/><rect x="1637" y="339" width="2" height="2" fill="#fff"/><rect x="5" y="371" width="1636" height="2" fill="#0000ff"/><rect x="4" y="369" width="6" height="6" fill="#0000ff"/><rect x="6" y="371" width="2" height="2" fill="#fff"/><rect x="1635" y="369" width="6" height="6" fill="#0000ff"/><rect x="1637" y="371" width="2" height="2" fill="#fff"/></g><rect x="4" y="220" width="6" height="6" fill="#ff0000" shape-rendering="crispEdges"/><rect x="6" y="222" width="2" height="2" fill="#fff" shape-rendering="crispEdges"/><rect x="4" y="257" width="6" height="6" fill="#ff0000" shape-rendering="crispEdges"/><rect x="6" y="259" width="2" height="2" fill="#fff" shape-rendering="crispEdges"/><rect x="4" y="289" width="6" height="6" fill="#ffa500" shape-rendering="crispEdges"/><rect x="6" y="291" width="2" height="2" fill="#fff" shape-rendering="crispEdges"/><rect x="4" y="337" width="6" height="6" fill="#0000ff" shape-rendering="crispEdges"/><rect x="6" y="339" width="2" height="2" fill="#fff" shape-rendering="crispEdges"/><rect x="4" y="369" width="6" height="6" fill="#0000ff" shape-rendering="crispEdges"/><rect x="6" y="371" width="2" height="2" fill="#fff" shape-rendering="crispEdges"/><line x1="1402" y1="213" x2="1467" y2="261" stroke="#4c9a2a" stroke-width="3"/><polygon points="1480.5,271.5 1471.5,253.5 1460.5,267.5" fill="#4c9a2a"/><polygon points="1438.5,28.5 1448.5,28.5 1443.5,34" fill="#000"/><polygon points="8,35 15,35 11.5,39" fill="#000"/><rect x="1642" y="44" width="2" height="1" fill="#000" shape-rendering="crispEdges"/><rect x="1642" y="77" width="2" height="1" fill="#000" shape-rendering="crispEdges"/><rect x="1642" y="110" width="2" height="1" fill="#000" shape-rendering="crispEdges"/><rect x="1642" y="143" width="2" height="1" fill="#000" shape-rendering="crispEdges"/><rect x="1642" y="176" width="2" height="1" fill="#000" shape-rendering="crispEdges"/><rect x="1642" y="209" width="2" height="1" fill="#000" shape-rendering="crispEdges"/><rect x="1642" y="242" width="2" height="1" fill="#000" shape-rendering="crispEdges"/><rect x="1642" y="275" width="2" height="1" fill="#000" shape-rendering="crispEdges"/><rect x="1642" y="308" width="2" height="1" fill="#000" shape-rendering="crispEdges"/><rect x="1642" y="341" width="2" height="1" fill="#000" shape-rendering="crispEdges"/><rect x="1642" y="374" width="2" height="1" fill="#000" shape-rendering="crispEdges"/><rect x="1642" y="407" width="2" height="1" fill="#000" shape-rendering="crispEdges"/><rect x="1642" y="440" width="2" height="1" fill="#000" shape-rendering="crispEdges"/><rect x="1642" y="473" width="2" height="1" fill="#000" shape-rendering="crispEdges"/><rect x="1642" y="506" width="2" height="1" fill="#000" shape-rendering="crispEdges"/><rect x="1642" y="539" width="2" height="1" fill="#000" shape-rendering="crispEdges"/><rect x="1642" y="572" width="2" height="1" fill="#000" shape-rendering="crispEdges"/><rect x="1642" y="605" width="2" height="1" fill="#000" shape-rendering="crispEdges"/><g clip-path="url(#cd)" shape-rendering="crispEdges"><rect x="4" y="631" width="3" height="84" fill="#00ff00"/><rect x="20" y="625" width="3" height="90" fill="#00ff00"/><rect x="36" y="632" width="3" height="83" fill="#00ff00"/><rect x="52" y="628" width="3" height="87" fill="#00ff00"/><rect x="68" y="624" width="3" height="91" fill="#00ff00"/><rect x="84" y="619" width="3" height="96" fill="#00ff00"/><rect x="100" y="618" width="3" height="97" fill="#00ff00"/><rect x="116" y="617" width="3" height="98" fill="#00ff00"/><rect x="132" y="623" width="3" height="92" fill="#00ff00"/><rect x="148" y="635" width="3" height="80" fill="#00ff00"/><rect x="164" y="644" width="3" height="71" fill="#00ff00"/><rect x="180" y="653" width="3" height="62" fill="#00ff00"/><rect x="196" y="660" width="3" height="55" fill="#00ff00"/><rect x="212" y="663" width="3" height="52" fill="#00ff00"/><rect x="228" y="668" width="3" height="47" fill="#00ff00"/><rect x="244" y="679" width="3" height="36" fill="#00ff00"/><rect x="260" y="687" width="3" height="28" fill="#00ff00"/><rect x="276" y="694" width="3" height="21" fill="#00ff00"/><rect x="292" y="701" width="3" height="14" fill="#00ff00"/><rect x="308" y="701" width="3" height="14" fill="#00ff00"/><rect x="324" y="699" width="3" height="16" fill="#00ff00"/><rect x="340" y="696" width="3" height="19" fill="#00ff00"/><rect x="356" y="694" width="3" height="21" fill="#00ff00"/><rect x="372" y="695" width="3" height="20" fill="#00ff00"/><rect x="388" y="691" width="3" height="24" fill="#00ff00"/><rect x="404" y="692" width="3" height="23" fill="#00ff00"/><rect x="420" y="687" width="3" height="28" fill="#00ff00"/><rect x="436" y="680" width="3" height="35" fill="#00ff00"/><rect x="452" y="676" width="3" height="39" fill="#00ff00"/><rect x="468" y="670" width="3" height="45" fill="#00ff00"/><rect x="484" y="667" width="3" height="48" fill="#00ff00"/><rect x="500" y="668" width="3" height="47" fill="#00ff00"/><rect x="516" y="671" width="3" height="44" fill="#00ff00"/><rect x="532" y="673" width="3" height="42" fill="#00ff00"/><rect x="548" y="680" width="3" height="35" fill="#00ff00"/><rect x="564" y="686" width="3" height="29" fill="#00ff00"/><rect x="580" y="689" width="3" height="26" fill="#00ff00"/><rect x="596" y="686" width="3" height="29" fill="#00ff00"/><rect x="612" y="690" width="3" height="25" fill="#00ff00"/><rect x="628" y="694" width="3" height="21" fill="#00ff00"/><rect x="644" y="695" width="3" height="20" fill="#00ff00"/><rect x="660" y="696" width="3" height="19" fill="#00ff00"/><rect x="676" y="695" width="3" height="20" fill="#00ff00"/><rect x="692" y="696" width="3" height="19" fill="#00ff00"/><rect x="708" y="681" width="3" height="34" fill="#00ff00"/><rect x="724" y="670" width="3" height="45" fill="#00ff00"/><rect x="740" y="663" width="3" height="52" fill="#00ff00"/><rect x="756" y="658" width="3" height="57" fill="#00ff00"/><rect x="772" y="655" width="3" height="60" fill="#00ff00"/><rect x="788" y="649" width="3" height="66" fill="#00ff00"/><rect x="804" y="646" width="3" height="69" fill="#00ff00"/><rect x="820" y="641" width="3" height="74" fill="#00ff00"/><rect x="836" y="637" width="3" height="78" fill="#00ff00"/><rect x="852" y="637" width="3" height="78" fill="#00ff00"/><rect x="868" y="641" width="3" height="74" fill="#00ff00"/><rect x="884" y="648" width="3" height="67" fill="#00ff00"/><rect x="900" y="650" width="3" height="65" fill="#00ff00"/><rect x="916" y="655" width="3" height="60" fill="#00ff00"/><rect x="932" y="658" width="3" height="57" fill="#00ff00"/><rect x="948" y="660" width="3" height="55" fill="#00ff00"/><rect x="964" y="665" width="3" height="50" fill="#00ff00"/><rect x="980" y="668" width="3" height="47" fill="#00ff00"/><rect x="996" y="675" width="3" height="40" fill="#00ff00"/><rect x="1012" y="683" width="3" height="32" fill="#00ff00"/><rect x="1028" y="693" width="3" height="22" fill="#00ff00"/><rect x="1044" y="696" width="3" height="19" fill="#00ff00"/><rect x="1060" y="697" width="3" height="18" fill="#00ff00"/><rect x="1076" y="700" width="3" height="15" fill="#00ff00"/><rect x="1092" y="708" width="3" height="7" fill="#00ff00"/><rect x="1108" y="709" width="3" height="6" fill="#00ff00"/><rect x="1124" y="710" width="3" height="5" fill="#00ff00"/><rect x="1140" y="710" width="3" height="5" fill="#00ff00"/><rect x="1156" y="711" width="3" height="4" fill="#00ff00"/><rect x="1172" y="706" width="3" height="9" fill="#00ff00"/><rect x="1188" y="702" width="3" height="13" fill="#00ff00"/><rect x="1204" y="703" width="3" height="12" fill="#00ff00"/><rect x="1220" y="703" width="3" height="12" fill="#00ff00"/><rect x="1236" y="704" width="3" height="11" fill="#00ff00"/><rect x="1252" y="703" width="3" height="12" fill="#00ff00"/><rect x="1268" y="705" width="3" height="10" fill="#00ff00"/><rect x="1284" y="708" width="3" height="7" fill="#00ff00"/><rect x="1300" y="709" width="3" height="6" fill="#00ff00"/><rect x="1316" y="711" width="3" height="4" fill="#00ff00"/><rect x="1332" y="707" width="3" height="8" fill="#00ff00"/><rect x="1348" y="704" width="3" height="11" fill="#00ff00"/><rect x="1364" y="708" width="3" height="7" fill="#00ff00"/><rect x="1380" y="710" width="3" height="5" fill="#00ff00"/><rect x="1396" y="715" width="3" height="1" fill="#00ff00"/><rect x="1412" y="715" width="3" height="4" fill="#00ff00"/></g><g clip-path="url(#cd)"><polyline points="5,673.2 21,664.0 37,656.0 53,647.8 69,639.8 85,632.9 101,629.1 117,624.9 133,624.2 149,624.7 165,626.7 181,629.1 197,632.1 213,637.1 229,642.1 245,649.0 261,657.0 277,665.2 293,672.0 309,678.1 325,684.3 341,688.0 357,690.8 373,694.5 389,695.0 405,695.5 421,695.5 437,693.8 453,690.6 469,687.6 485,684.6 501,681.4 517,678.4 533,676.1 549,675.6 565,675.1 581,676.4 597,677.1 613,680.1 629,682.6 645,685.6 661,688.3 677,690.1 693,691.8 709,691.6 725,689.3 741,687.6 757,683.4 773,679.6 789,674.6 805,668.4 821,662.5 837,655.3 853,651.5 869,647.0 885,646.5 901,645.6 917,645.0 933,646.3 949,647.0 965,650.3 981,654.0 997,657.7 1013,661.5 1029,667.0 1045,673.2 1061,677.6 1077,682.6 1093,687.1 1109,691.6 1125,696.3 1141,701.3 1157,704.5 1173,705.0 1189,705.7 1205,706.2 1221,706.7 1237,706.7 1253,706.2 1269,705.0 1285,705.0 1301,705.0 1317,705.0 1333,705.7 1349,706.2 1365,706.7 1381,706.7 1397,708.7 1413,709.7" fill="none" stroke="#ff0000" stroke-width="2" stroke-linejoin="round" shape-rendering="crispEdges"/></g><rect x="1642" y="612" width="2" height="1" fill="#000" shape-rendering="crispEdges"/><rect x="1642" y="715" width="2" height="1" fill="#000" shape-rendering="crispEdges"/><rect x="1642" y="723" width="2" height="1" fill="#000" shape-rendering="crispEdges"/><line x1="6" y1="750.5" x2="1641" y2="750.5" stroke="#000" stroke-width="1" stroke-dasharray="3 3" shape-rendering="crispEdges"/><rect x="1642" y="750" width="2" height="1" fill="#000" shape-rendering="crispEdges"/><line x1="6" y1="783.5" x2="1641" y2="783.5" stroke="#000" stroke-width="1" stroke-dasharray="3 3" shape-rendering="crispEdges"/><rect x="1642" y="783" width="2" height="1" fill="#000" shape-rendering="crispEdges"/><line x1="6" y1="822.5" x2="1641" y2="822.5" stroke="#000" stroke-width="1" stroke-dasharray="3 3" shape-rendering="crispEdges"/><rect x="1642" y="822" width="2" height="1" fill="#000" shape-rendering="crispEdges"/><rect x="1642" y="728" width="2" height="1" fill="#000" shape-rendering="crispEdges"/><g clip-path="url(#cr)"><polyline points="5,765.0 21,765.0 37,777.0 53,768.8 69,768.3 85,765.0 101,771.7 117,769.7 133,775.7 149,781.0 165,781.0 181,781.0 197,781.0 213,778.0 229,780.0 245,785.7 261,785.7 277,784.2 293,787.2 309,781.7 325,778.2 341,777.0 357,777.0 373,778.7 389,774.7 405,779.0 421,772.7 437,770.5 453,770.5 469,767.5 485,769.2 501,773.7 517,776.7 533,776.7 549,783.7 565,783.7 581,781.2 597,773.7 613,782.4 629,782.4 645,779.7 661,780.7 677,777.7 693,780.7 709,763.8 725,763.8 741,766.8 757,766.8 773,766.8 789,763.8 805,764.8 821,761.8 837,761.8 853,767.5 869,770.7 885,775.5 901,772.0 917,775.5 933,773.7 949,773.7 965,776.7 981,776.7 997,781.7 1013,785.4 1029,789.6 1045,782.9 1061,780.0 1077,782.9 1093,789.6 1109,784.9 1125,782.4 1141,782.4 1157,782.4 1173,775.0 1189,775.0 1205,780.7 1221,780.7 1237,782.0 1253,779.0 1269,785.7 1285,782.7 1301,782.7 1317,784.9 1333,775.7 1349,775.7 1365,784.7 1381,787.2 1397,789.6 1413,789.6" fill="none" stroke="#1e90ff" stroke-width="2" stroke-linejoin="round" shape-rendering="crispEdges"/></g><rect x="5" y="840" width="1" height="3" fill="#000" shape-rendering="crispEdges"/><rect x="69" y="840" width="1" height="3" fill="#000" shape-rendering="crispEdges"/><rect x="133" y="840" width="1" height="3" fill="#000" shape-rendering="crispEdges"/><rect x="197" y="840" width="1" height="3" fill="#000" shape-rendering="crispEdges"/><rect x="261" y="840" width="1" height="3" fill="#000" shape-rendering="crispEdges"/><rect x="325" y="840" width="1" height="3" fill="#000" shape-rendering="crispEdges"/><rect x="389" y="840" width="1" height="3" fill="#000" shape-rendering="crispEdges"/><rect x="453" y="840" width="1" height="3" fill="#000" shape-rendering="crispEdges"/><rect x="517" y="840" width="1" height="3" fill="#000" shape-rendering="crispEdges"/><rect x="581" y="840" width="1" height="3" fill="#000" shape-rendering="crispEdges"/><rect x="645" y="840" width="1" height="3" fill="#000" shape-rendering="crispEdges"/><rect x="709" y="840" width="1" height="3" fill="#000" shape-rendering="crispEdges"/><rect x="773" y="840" width="1" height="3" fill="#000" shape-rendering="crispEdges"/><rect x="837" y="840" width="1" height="3" fill="#000" shape-rendering="crispEdges"/><rect x="901" y="840" width="1" height="3" fill="#000" shape-rendering="crispEdges"/><rect x="965" y="840" width="1" height="3" fill="#000" shape-rendering="crispEdges"/><rect x="1029" y="840" width="1" height="3" fill="#000" shape-rendering="crispEdges"/><rect x="1093" y="840" width="1" height="3" fill="#000" shape-rendering="crispEdges"/><rect x="1157" y="840" width="1" height="3" fill="#000" shape-rendering="crispEdges"/><rect x="1221" y="840" width="1" height="3" fill="#000" shape-rendering="crispEdges"/><rect x="1285" y="840" width="1" height="3" fill="#000" shape-rendering="crispEdges"/><rect x="1349" y="840" width="1" height="3" fill="#000" shape-rendering="crispEdges"/><rect x="1413" y="840" width="1" height="3" fill="#000" shape-rendering="crispEdges"/><g font-family='"Liberation Sans", sans-serif' font-size="9.6" fill="#000" stroke="#000" stroke-width="0.2"><text x="1647" y="48" textLength="33.44" lengthAdjust="spacingAndGlyphs">1.07435</text><text x="1647" y="81" textLength="33.44" lengthAdjust="spacingAndGlyphs">1.07245</text><text x="1647" y="114" textLength="33.44" lengthAdjust="spacingAndGlyphs">1.07055</text><text x="1647" y="147" textLength="33.44" lengthAdjust="spacingAndGlyphs">1.06865</text><text x="1647" y="180" textLength="33.44" lengthAdjust="spacingAndGlyphs">1.06675</text><text x="1647" y="213" textLength="33.44" lengthAdjust="spacingAndGlyphs">1.06485</text><text x="1647" y="246" textLength="33.44" lengthAdjust="spacingAndGlyphs">1.06295</text><text x="1647" y="279" textLength="33.44" lengthAdjust="spacingAndGlyphs">1.06105</text><text x="1647" y="312" textLength="33.44" lengthAdjust="spacingAndGlyphs">1.05915</text><text x="1647" y="345" textLength="33.44" lengthAdjust="spacingAndGlyphs">1.05725</text><text x="1647" y="378" textLength="33.44" lengthAdjust="spacingAndGlyphs">1.05535</text><text x="1647" y="411" textLength="33.44" lengthAdjust="spacingAndGlyphs">1.05345</text><text x="1647" y="444" textLength="33.44" lengthAdjust="spacingAndGlyphs">1.05155</text><text x="1647" y="477" textLength="33.44" lengthAdjust="spacingAndGlyphs">1.04965</text><text x="1647" y="510" textLength="33.44" lengthAdjust="spacingAndGlyphs">1.04775</text><text x="1647" y="543" textLength="33.44" lengthAdjust="spacingAndGlyphs">1.04585</text><text x="1647" y="576" textLength="33.44" lengthAdjust="spacingAndGlyphs">1.04395</text><text x="1647" y="609" textLength="33.44" lengthAdjust="spacingAndGlyphs">1.04205</text><text x="4" y="852" textLength="47.31" lengthAdjust="spacingAndGlyphs">2 Dec 2022</text><text x="68" y="852" textLength="49.88" lengthAdjust="spacingAndGlyphs">4 Dec 23:00</text><text x="132" y="852" textLength="49.88" lengthAdjust="spacingAndGlyphs">5 Dec 12:00</text><text x="196" y="852" textLength="49.88" lengthAdjust="spacingAndGlyphs">6 Dec 04:00</text><text x="260" y="852" textLength="49.88" lengthAdjust="spacingAndGlyphs">6 Dec 20:00</text><text x="324" y="852" textLength="49.88" lengthAdjust="spacingAndGlyphs">7 Dec 12:00</text><text x="388" y="852" textLength="49.88" lengthAdjust="spacingAndGlyphs">8 Dec 04:00</text><text x="452" y="852" textLength="49.88" lengthAdjust="spacingAndGlyphs">8 Dec 20:00</text><text x="516" y="852" textLength="49.88" lengthAdjust="spacingAndGlyphs">9 Dec 12:00</text><text x="580" y="852" textLength="55.03" lengthAdjust="spacingAndGlyphs">12 Dec 04:00</text><text x="644" y="852" textLength="55.03" lengthAdjust="spacingAndGlyphs">12 Dec 20:00</text><text x="708" y="852" textLength="55.03" lengthAdjust="spacingAndGlyphs">13 Dec 12:00</text><text x="772" y="852" textLength="55.03" lengthAdjust="spacingAndGlyphs">14 Dec 04:00</text><text x="836" y="852" textLength="55.03" lengthAdjust="spacingAndGlyphs">14 Dec 20:00</text><text x="900" y="852" textLength="55.03" lengthAdjust="spacingAndGlyphs">15 Dec 12:00</text><text x="964" y="852" textLength="55.03" lengthAdjust="spacingAndGlyphs">16 Dec 04:00</text><text x="1028" y="852" textLength="55.03" lengthAdjust="spacingAndGlyphs">18 Dec 23:00</text><text x="1092" y="852" textLength="55.03" lengthAdjust="spacingAndGlyphs">19 Dec 12:00</text><text x="1156" y="852" textLength="55.03" lengthAdjust="spacingAndGlyphs">20 Dec 04:00</text><text x="1220" y="852" textLength="55.03" lengthAdjust="spacingAndGlyphs">20 Dec 20:00</text><text x="1284" y="852" textLength="55.03" lengthAdjust="spacingAndGlyphs">21 Dec 12:00</text><text x="1348" y="852" textLength="55.03" lengthAdjust="spacingAndGlyphs">22 Dec 04:00</text><text x="1412" y="852" textLength="55.03" lengthAdjust="spacingAndGlyphs">22 Dec 20:00</text><text x="20.5" y="40" textLength="56.53" lengthAdjust="spacingAndGlyphs">EURUSD-,H4</text><text x="83" y="40" textLength="141.46" lengthAdjust="spacingAndGlyphs">1.05924 1.06028 1.05877 1.05938</text><text x="9.5" y="623" textLength="149.64" lengthAdjust="spacingAndGlyphs">MACD(12,26,9) -0.000182 0.000227</text><text x="9.5" y="739" textLength="67.88" lengthAdjust="spacingAndGlyphs">RSI(14) 44.4516</text><text x="1645" y="621" textLength="38.58" lengthAdjust="spacingAndGlyphs">0.004937</text><text x="1645" y="719" textLength="18.00" lengthAdjust="spacingAndGlyphs">0.00</text><text x="1644" y="721" textLength="41.66" lengthAdjust="spacingAndGlyphs">-0.000426</text><text x="1645.5" y="737" textLength="15.43" lengthAdjust="spacingAndGlyphs">100</text><text x="1645.5" y="754" textLength="10.29" lengthAdjust="spacingAndGlyphs">80</text><text x="1645.5" y="787" textLength="10.29" lengthAdjust="spacingAndGlyphs">50</text><text x="1645.5" y="826" textLength="10.29" lengthAdjust="spacingAndGlyphs">15</text><text x="1645.5" y="836" textLength="5.14" lengthAdjust="spacingAndGlyphs">0</text></g><g font-family='"Liberation Sans", sans-serif' font-size="9.6" stroke="#fff" stroke-width="0.15"><rect x="1643" y="217" width="41" height="11" fill="#ff0000" shape-rendering="crispEdges"/><text x="1647" y="226" textLength="33.44" lengthAdjust="spacingAndGlyphs" fill="#fff">1.06404</text><rect x="1643" y="254" width="41" height="11" fill="#ff0000" shape-rendering="crispEdges"/><text x="1647" y="263" textLength="33.44" lengthAdjust="spacingAndGlyphs" fill="#fff">1.06191</text><rect x="1643" y="286" width="41" height="11" fill="#ffa500" shape-rendering="crispEdges"/><text x="1647" y="295" textLength="33.44" lengthAdjust="spacingAndGlyphs" fill="#fff">1.06007</text><rect x="1643" y="299" width="41" height="11" fill="#000000" shape-rendering="crispEdges"/><text x="1647" y="308" textLength="33.44" lengthAdjust="spacingAndGlyphs" fill="#fff">1.05938</text><rect x="1643" y="334" width="41" height="11" fill="#0000ff" shape-rendering="crispEdges"/><text x="1647" y="343" textLength="33.44" lengthAdjust="spacingAndGlyphs" fill="#fff">1.05731</text><rect x="1643" y="366" width="41" height="11" fill="#0000ff" shape-rendering="crispEdges"/><text x="1647" y="375" textLength="33.44" lengthAdjust="spacingAndGlyphs" fill="#fff">1.05547</text></g></svg>
</body></html>
